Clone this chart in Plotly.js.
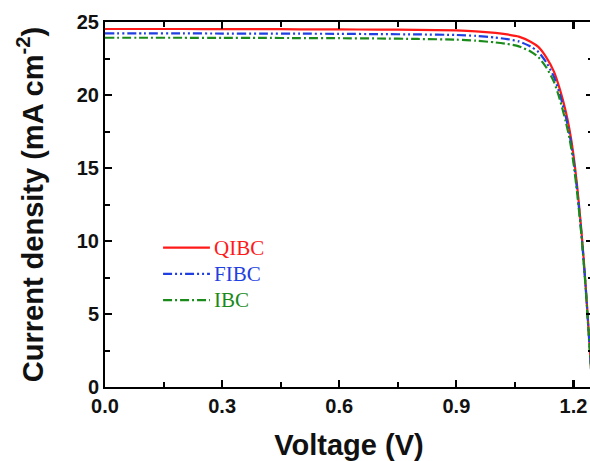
<!DOCTYPE html>
<html>
<head>
<meta charset="utf-8">
<script src="https://cdn.plot.ly/plotly-3.0.1.min.js"></script>
<style>html,body{margin:0;padding:0;overflow:hidden;background:#fff;}</style>
</head>
<body>
<div id="chart" style="width:600px;height:461px;"></div>
<script>
const voltage = [0, 0.1, 0.2, 0.3, 0.4, 0.5, 0.6, 0.7, 0.8, 0.9, 0.95, 1.0, 1.03, 1.06, 1.09, 1.11, 1.13, 1.15, 1.165, 1.18, 1.19, 1.2, 1.21, 1.22, 1.23, 1.24, 1.248];
const jQIBC = [24.52, 24.52, 24.52, 24.51, 24.51, 24.50, 24.49, 24.48, 24.46, 24.42, 24.36, 24.25, 24.15, 24.0, 23.65, 23.3, 22.6, 21.6, 20.4, 18.9, 17.6, 15.9, 13.6, 10.8, 7.4, 3.4, 0];
const jFIBC = [24.22, 24.22, 24.22, 24.21, 24.21, 24.20, 24.19, 24.17, 24.15, 24.11, 24.05, 23.93, 23.83, 23.67, 23.32, 22.95, 22.25, 21.25, 20.05, 18.55, 17.3, 15.6, 13.35, 10.6, 7.3, 3.3, 0];
const jIBC = [23.92, 23.92, 23.92, 23.91, 23.91, 23.90, 23.89, 23.87, 23.84, 23.79, 23.72, 23.60, 23.50, 23.33, 22.98, 22.6, 21.9, 20.9, 19.7, 18.2, 17.0, 15.35, 13.15, 10.5, 7.2, 3.2, 0];
const seriesNames = ['QIBC', 'FIBC', 'IBC'];

const colors = ['#ff1a1a', '#1f3fe0', '#1a8a1a'];
const dashes = ['solid', '9px,3px,2px,3px,2px,3px', '9px,3px,2px,3px'];
const ys = [jQIBC, jFIBC, jIBC];

const traces = seriesNames.map((n, i) => ({
  x: voltage, y: ys[i], type: 'scatter', mode: 'lines', name: n, showlegend: false,
  line: {color: colors[i], width: 2.2, dash: dashes[i], shape: 'spline', smoothing: 0.6}
}));

// hand-placed legend (paper coordinates)
const legX0 = 0.119, legX1 = 0.215, legY0 = 0.382, legDy = 0.072;
const shapes = seriesNames.map((n, i) => ({
  type: 'line', xref: 'paper', yref: 'paper',
  x0: legX0, x1: legX1, y0: legY0 - i * legDy, y1: legY0 - i * legDy,
  line: {color: colors[i], width: 2.2, dash: dashes[i]}
}));
const annotations = seriesNames.map((n, i) => ({
  xref: 'paper', yref: 'paper', x: legX1 + 0.004, y: legY0 - i * legDy,
  xanchor: 'left', yanchor: 'middle', showarrow: false, text: n,
  font: {family: 'Liberation Serif, Times New Roman, serif', size: 21, color: colors[i]}
}));

const axisCommon = {
  showgrid: false, zeroline: false, showline: true, linecolor: '#000000', linewidth: 2,
  mirror: 'ticks', ticks: 'inside', ticklen: 7, tickwidth: 2.2, tickcolor: '#000000',
  tickfont: {family: 'Liberation Sans, Arial, sans-serif', size: 20, color: '#111', weight: 'bold'}
};
const titleFont = {family: 'Liberation Sans, Arial, sans-serif', size: 29, color: '#111', weight: 'bold'};

const layout = {
  width: 600, height: 461,
  margin: {l: 105, r: 7, t: 22, b: 74},
  paper_bgcolor: '#fff', plot_bgcolor: '#fff',
  showlegend: false, shapes: shapes, annotations: annotations,
  xaxis: Object.assign({}, axisCommon, {
    range: [0, 1.25], tickmode: 'linear', tick0: 0, dtick: 0.3, tickformat: '.1f',
    minor: {dtick: 0.15, tick0: 0, ticks: 'inside', ticklen: 5, tickwidth: 2, tickcolor: '#000000'},
    title: {text: 'Voltage (V)', font: titleFont, standoff: 19}
  }),
  yaxis: Object.assign({}, axisCommon, {
    range: [0, 25], tickmode: 'linear', tick0: 0, dtick: 5,
    minor: {dtick: 2.5, tick0: 0, ticks: 'inside', ticklen: 5, tickwidth: 2, tickcolor: '#000000'},
    title: {text: 'Current density (mA cm<sup>-2</sup>)', font: titleFont, standoff: 25}
  })
};

Plotly.newPlot('chart', traces, layout, {displayModeBar: false, staticPlot: true});
</script>
</body>
</html>
